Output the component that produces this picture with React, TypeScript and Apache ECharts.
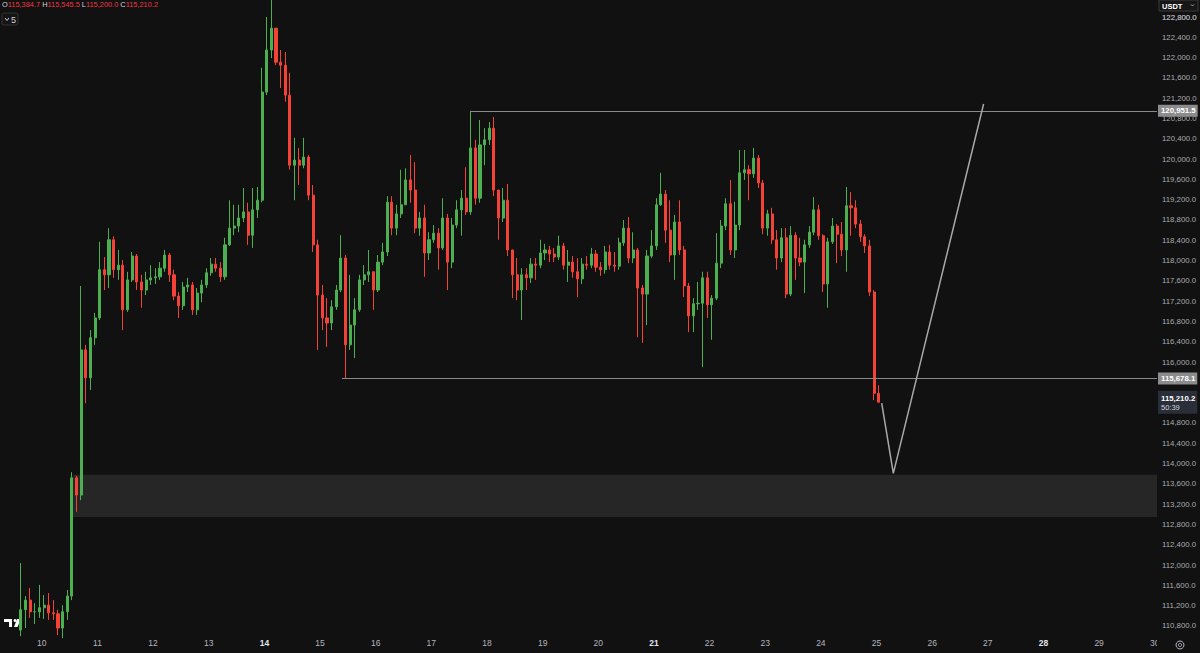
import React, { useEffect, useRef } from "react";
import * as echarts from "echarts";

const START_DAY = 9.625;
const STEP_DAYS = 1 / 12;
const FIRST_OPEN = 110720;

const closes = [
  111120, 111310, 111080, 111080, 111160, 111210, 111060, 111040, 110760, 111080,
  111390, 113720, 113380, 116240, 115690, 116480, 116870, 117820, 117720, 118410,
  117820, 117910, 117030, 117620, 118090, 117580, 117420, 117620, 117660, 117680,
  117850, 118110, 117720, 117300, 117110, 117480, 117520, 117030, 117360, 117520,
  117760, 117930, 117850, 117680, 118310, 118640, 118680, 118840, 118960, 118500,
  119000, 119190, 121320, 122150, 122580, 121910, 121850, 121260, 119880, 119980,
  119880, 120040, 119290, 118310, 117320, 116870, 116770, 117090, 117420, 118050,
  116340, 116730, 117030, 117620, 117720, 117780, 117420, 117970, 118170, 119150,
  118640, 118920, 119100, 119590, 119390, 118640, 118840, 118150, 118410, 118540,
  118250, 118840, 117970, 118700, 119000, 119230, 118960, 120220, 119230, 120280,
  120380, 120610, 119390, 118840, 119190, 118210, 117720, 117420, 117720, 117660,
  117930, 117910, 118150, 118210, 118130, 118070, 118290, 117910, 117970, 117780,
  117640, 117930, 117910, 118130, 117870, 117820, 118170, 117910, 117890, 118350,
  118640, 118050, 118210, 117460, 117340, 118090, 118290, 119100, 119310, 118600,
  118110, 118760, 118210, 117500, 116910, 117150, 117160, 117660, 117130, 117260,
  117950, 118680, 119120, 118210, 118700, 119730, 119790, 119710, 120020, 119530,
  118640, 118920, 118410, 118050, 118450, 117340, 118500, 118050, 117970, 118310,
  118560, 119000, 118490, 117540, 118370, 118680, 118520, 118210, 119080, 119040,
  118720, 118470, 118290, 117380, 115384.7, 115210.2,
];

const highs = [
  112040, 111390, 111550, 111250, 111610, 111410, 111450, 111310, 111120, 111210,
  111510, 113830, 113760, 117500, 116340, 116630, 116970, 118370, 118070, 118640,
  118480, 118210, 118010, 117780, 118170, 118130, 117720, 117780, 117910, 117850,
  117970, 118210, 118150, 117820, 117380, 117580, 117660, 117580, 117460, 117620,
  117850, 118050, 118050, 117970, 118450, 119190, 119100, 119100, 119430, 119140,
  119430, 119450, 121800, 122800, 123180, 122580, 122150, 122110, 121700, 120420,
  120220, 120420, 120080, 119490, 118410, 117520, 117260, 117220, 117520, 118500,
  118110, 117720, 117260, 117720, 117910, 118210, 117780, 118110, 118350, 119270,
  119270, 119100, 119790, 119820, 120080, 119940, 118960, 119100, 118560, 118700,
  118640, 119230, 118920, 118840, 119190, 119390, 119840, 120951.5, 120380, 120770,
  120610, 120730, 120830, 119390, 119430, 119510, 118210, 118050, 117850, 117850,
  118050, 118050, 118410, 118330, 118290, 118250, 118490, 118350, 118210, 118090,
  118050, 118050, 118090, 118250, 118210, 117970, 118290, 118310, 118170, 118450,
  118800, 118860, 118560, 118250, 117520, 118210, 118600, 119230, 119730, 119390,
  119190, 118900, 119190, 118290, 117560, 117260, 117580, 117780, 117780, 117320,
  118540, 118800, 119230, 119590, 119160, 120180, 120180, 119880, 120220, 120080,
  119590, 119000, 119040, 118600, 118640, 118640, 118680, 118560, 118450, 118410,
  118680, 119250, 119100, 118520, 118450, 118840, 118720, 118760, 119450, 119350,
  119190, 118800, 118520, 118410, 117420, 115545.5,
];

const lows = [
  110600, 110760, 110960, 110840, 110960, 110940, 110920, 110920, 110620, 110560,
  110920, 111310, 113050, 113280, 115190, 115450, 116340, 116830, 117420, 117460,
  117660, 117620, 116630, 116990, 117580, 117420, 117070, 117320, 117520, 117540,
  117620, 117780, 117580, 117220, 116870, 117030, 117380, 116930, 116930, 117180,
  117460, 117700, 117780, 117580, 117620, 118290, 118500, 118560, 118760, 118310,
  118250, 118840, 119150, 121260, 121990, 121850, 121400, 121130, 119790, 119190,
  119490, 119820, 119190, 118170, 116240, 116630, 116300, 116630, 117030, 117380,
  115678.1, 116240, 116080, 116990, 117520, 117580, 117030, 117380, 117910, 118090,
  118500, 118500, 118840, 119100, 119140, 118540, 118490, 117680, 118010, 118350,
  117820, 118210, 117420, 117850, 118640, 118490, 118900, 118900, 119100, 119140,
  119880, 120280, 119270, 118410, 118760, 118090, 117260, 117220, 116830, 117420,
  117560, 117620, 117850, 118010, 117970, 117970, 118010, 117820, 117580, 117660,
  117280, 117540, 117820, 117850, 117780, 117700, 117740, 117820, 117780, 117820,
  118290, 117950, 117950, 116490, 116380, 116730, 118050, 118210, 119080, 118350,
  117970, 117620, 118110, 117280, 116590, 116590, 117030, 115900, 116870, 116440,
  117220, 117850, 118600, 118110, 118050, 118600, 119590, 119190, 119630, 119430,
  118520, 118490, 118330, 117820, 117970, 117260, 117300, 117620, 117890, 117360,
  118250, 118500, 118410, 117380, 117070, 118330, 117950, 118090, 117780, 118490,
  118640, 118370, 118150, 117300, 115250, 115200,
];

const X_MIN = 9.249;
const X_MAX = 30.04;
const DAY_TICKS = [10, 11, 12, 13, 14, 15, 16, 17, 18, 19, 20, 21, 22, 23, 24, 25, 26, 27, 28, 29, 30];
const BOLD_DAYS = [14, 21, 28];
const Y_MIN = 110662;
const Y_MAX = 123135;
const PRICE_TICKS = [
  110800, 111200, 111600, 112000, 112400, 112800, 113200, 113600, 114000, 114400,
  114800, 115200, 115600, 116000, 116400, 116800, 117200, 117600, 118000, 118400,
  118800, 119200, 119600, 120000, 120400, 120800, 121200, 121600, 122000, 122400, 122800,
];
const HIDDEN_TICKS = [115200, 115600];

const RESISTANCE = 120951.5;
const RESISTANCE_START = 17.713;
const SUPPORT = 115678.1;
const SUPPORT_START = 15.394;
const ZONE_LOW = 112950;
const ZONE_HIGH = 113780;
const ZONE_START = 10.555;
const PROJECTION: [number, number][] = [
  [25.093, 115194],
  [25.302, 113808],
  [26.924, 121086],
];
const LEGEND = { O: 115384.7, H: 115545.5, L: 115200.0, C: 115210.2 };
const COUNTDOWN = "50:39";

const UP = "#4caf50";
const DOWN = "#f44336";
const BG = "#111111";
const FONT = "Liberation Sans";
const AXIS_FS = 7.8;
const AXIS_COLOR = "#a9abb2";

const fmt = (v: number) =>
  Number(v).toLocaleString("en-US", { minimumFractionDigits: 1, maximumFractionDigits: 1 });

export default function App() {
  const ref = useRef<HTMLDivElement>(null);

  useEffect(() => {
    if (!ref.current) return;
    const chart = echarts.init(ref.current, undefined, { renderer: "svg" });

    const candles = closes.map((c, i) => {
      const o = i === 0 ? FIRST_OPEN : closes[i - 1];
      const l = Math.min(lows[i], o, c);
      const h = Math.max(highs[i], o, c);
      return [START_DAY + i * STEP_DAYS, o, c, l, h];
    });

    const priceLabel = (value: number, bg: string) => ({
      show: true,
      position: "end" as const,
      distance: 1,
      formatter: () => fmt(value),
      color: "#ffffff",
      backgroundColor: bg,
      padding: [2, 2, 2, 3],
      fontSize: AXIS_FS,
      fontWeight: "bold" as const,
      fontFamily: FONT,
    });

    const legendRich = {
      k: { fill: "#d1d4dc", fontSize: 7.4, fontFamily: FONT },
      r: { fill: "#f23645", fontSize: 7.4, fontFamily: FONT },
    };
    const legendText = (Object.keys(LEGEND) as (keyof typeof LEGEND)[])
      .map((k) => `{k|${k}}{r|${fmt(LEGEND[k])}}`)
      .join(" ");

    chart.setOption({
      animation: false,
      backgroundColor: BG,
      grid: { left: 0, right: 43, top: 0, bottom: 20, outerBoundsMode: "none", containLabel: false },
      xAxis: {
        type: "value",
        min: X_MIN,
        max: X_MAX,
        axisLine: { show: false },
        axisTick: { show: false },
        splitLine: { show: false },
        axisLabel: {
          customValues: DAY_TICKS,
          margin: 5,
          color: "#b2b5be",
          fontSize: 8.5,
          fontFamily: FONT,
          formatter: (v: number) => (BOLD_DAYS.includes(v) ? `{b|${v}}` : `${v}`),
          rich: {
            b: { fontWeight: "bold", color: "#e0e3eb", fontSize: 8.5, fontFamily: FONT },
          },
        },
      },
      yAxis: {
        type: "value",
        position: "right",
        min: Y_MIN,
        max: Y_MAX,
        axisLine: { show: false },
        axisTick: { show: false },
        splitLine: { show: false },
        axisLabel: {
          customValues: PRICE_TICKS,
          margin: 5,
          color: AXIS_COLOR,
          fontSize: AXIS_FS,
          fontFamily: FONT,
          formatter: (v: number) => (HIDDEN_TICKS.includes(v) ? "" : fmt(v)),
        },
      },
      series: [
        {
          type: "candlestick",
          data: candles,
          encode: { x: 0, y: [1, 2, 3, 4] },
          clip: false,
          barWidth: 2.6,
          itemStyle: {
            color: UP,
            color0: DOWN,
            borderColor: UP,
            borderColor0: DOWN,
            borderWidth: 1,
          },
          markArea: {
            silent: true,
            itemStyle: { color: "#262626" },
            data: [[{ coord: [ZONE_START, ZONE_HIGH] }, { coord: [X_MAX, ZONE_LOW] }]],
          },
          markLine: {
            silent: true,
            symbol: "none",
            animation: false,
            lineStyle: { color: "#8a8a8a", width: 1, type: "solid" },
            data: [
              [
                { coord: [RESISTANCE_START, RESISTANCE], label: priceLabel(RESISTANCE, "#8c8c8c") },
                { coord: [X_MAX, RESISTANCE] },
              ],
              [
                { coord: [SUPPORT_START, SUPPORT], label: priceLabel(SUPPORT, "#8c8c8c") },
                { coord: [X_MAX, SUPPORT] },
              ],
              [
                {
                  coord: [X_MAX - 0.02, LEGEND.C],
                  lineStyle: { color: "rgba(0,0,0,0)", width: 1 },
                  label: {
                    show: true,
                    position: "end",
                    distance: 1,
                    formatter: () => `{a|${fmt(LEGEND.C)}}\n{b|${COUNTDOWN}}`,
                    backgroundColor: "#2a2e39",
                    padding: [3, 2, 2, 3],
                    rich: {
                      a: { color: "#ffffff", fontSize: AXIS_FS, fontWeight: "bold", fontFamily: FONT, lineHeight: 9 },
                      b: { color: "#d1d4dc", fontSize: 7.5, fontFamily: FONT, lineHeight: 9 },
                    },
                  },
                },
                { coord: [X_MAX, LEGEND.C] },
              ],
            ],
          },
        },
        {
          type: "line",
          data: PROJECTION,
          symbol: "none",
          silent: true,
          z: 5,
          lineStyle: { color: "#a8a8a8", width: 1.5 },
        },
      ],
      graphic: [
        {
          type: "text",
          x: 2,
          y: 1,
          style: { text: legendText, rich: legendRich, fontFamily: FONT, fontSize: 7.4 },
        },
        {
          type: "group",
          x: 2,
          y: 13,
          children: [
            {
              type: "rect",
              shape: { x: 0, y: 0, width: 16, height: 12, r: 2 },
              style: { fill: "#141414", stroke: "#333333", lineWidth: 1 },
            },
            {
              type: "polyline",
              shape: { points: [[3, 5], [5, 7.5], [7, 5]] },
              style: { stroke: "#d1d4dc", lineWidth: 1, fill: "none" },
            },
            {
              type: "text",
              x: 9,
              y: 2,
              style: { text: "5", fill: "#d1d4dc", fontSize: 9, fontFamily: FONT },
            },
          ],
        },
        {
          type: "group",
          x: 1159,
          y: 0,
          children: [
            {
              type: "rect",
              shape: { x: 0, y: 0, width: 39, height: 11 },
              style: { fill: "#161616", stroke: "#3a3a3a", lineWidth: 1 },
            },
            {
              type: "text",
              x: 3,
              y: 2,
              style: { text: "USDT", fill: "#ffffff", fontSize: 7.5, fontWeight: "bold", fontFamily: FONT },
            },
            {
              type: "polyline",
              shape: { points: [[32, 4.5], [33.5, 6], [35, 4.5]] },
              style: { stroke: "#a9abb2", lineWidth: 1, fill: "none" },
            },
          ],
        },
        {
          type: "group",
          x: 4,
          y: 619,
          children: [
            { type: "rect", shape: { x: 0, y: 0, width: 8, height: 3 }, style: { fill: "#ffffff" } },
            { type: "rect", shape: { x: 5, y: 0, width: 3, height: 8 }, style: { fill: "#ffffff" } },
            { type: "circle", shape: { cx: 11, cy: 1.5, r: 1.5 }, style: { fill: "#ffffff" } },
            {
              type: "polygon",
              shape: { points: [[13, 0], [17, 0], [13.5, 8], [10, 8]] },
              style: { fill: "#ffffff" },
            },
          ],
        },
        {
          type: "rect",
          z: 100,
          shape: { x: 1157, y: 634, width: 43, height: 19 },
          style: { fill: BG },
        },
        {
          type: "group",
          z: 101,
          x: 1180,
          y: 645,
          children: [
            { type: "circle", z: 101, shape: { cx: 0, cy: 0, r: 4 }, style: { fill: "none", stroke: "#b2b5be", lineWidth: 1 } },
            { type: "circle", z: 101, shape: { cx: 0, cy: 0, r: 1.6 }, style: { fill: "none", stroke: "#b2b5be", lineWidth: 1 } },
          ],
        },
        {
          type: "text",
          x: 1162,
          y: 17,
          z: 120,
          style: {
            text: fmt(PRICE_TICKS[PRICE_TICKS.length - 1]),
            fill: AXIS_COLOR,
            fontSize: AXIS_FS,
            fontFamily: FONT,
            verticalAlign: "middle",
          },
        },
      ],
    });

    return () => chart.dispose();
  }, []);

  return (
    <div
      ref={ref}
      style={{ position: "fixed", left: 0, top: 0, width: 1200, height: 653, background: BG }}
    />
  );
}
